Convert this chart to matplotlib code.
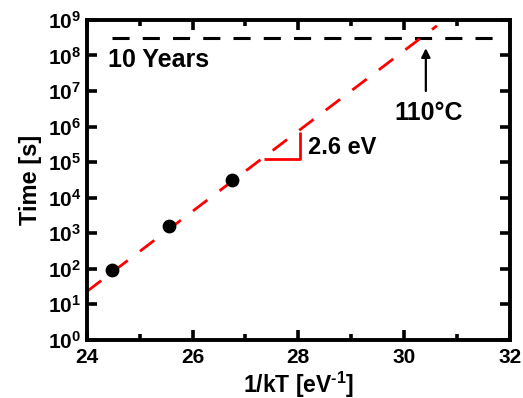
import numpy as np
import matplotlib
matplotlib.use('Agg')
import matplotlib.pyplot as plt
from matplotlib.ticker import FixedLocator, FuncFormatter

plt.rcParams['font.family'] = 'Liberation Sans'
plt.rcParams['font.weight'] = 'bold'
plt.rcParams['mathtext.fontset'] = 'custom'
plt.rcParams['mathtext.rm'] = 'Liberation Sans:bold'
plt.rcParams['mathtext.bf'] = 'Liberation Sans:bold'

# measured points
inv_kT = [24.47, 25.55, 26.74]
times = [95, 1550, 32000]

# Arrhenius fit
ea = 2.6            # eV
fit_x = [24.0, 30.62]
fit_log_t0 = 1.36   # log10 time at 1/kT = 24
ten_years = 3.15e8
t_110c = 30.41

def fit(x):
    return 10 ** (fit_log_t0 + ea / np.log(10) * (np.asarray(x) - 24.0))

fig = plt.figure(figsize=(5.23, 3.98), dpi=100)
ax = fig.add_axes([0.166, 0.146, 0.809, 0.804])

ax.set_yscale('log')
ax.set_xlim(24, 32)
ax.set_ylim(1, 1e9)

# 10 years line
ax.plot([24.47, 31.8], [ten_years, ten_years], color='black', lw=2.2,
        dashes=(5.6, 4.3))

# fit line
fx = np.linspace(fit_x[0], fit_x[1], 50)
ax.plot(fx, fit(fx), color='#ff0000', lw=2.0, dashes=(6.5, 5.5))

# slope triangle
tx0, tx1 = 27.35, 28.03
ty = 1.2e5
ax.plot([tx0, tx1, tx1], [ty, ty, ty * 10 ** (ea / np.log(10) * (tx1 - tx0))],
        color='#ff0000', lw=2.0, solid_capstyle='butt')
ax.text(28.18, 2.5e5, '2.6 eV', fontsize=17, fontweight='bold', va='center')

# data points
ax.scatter(inv_kT, times, s=80, color='black', zorder=5)

ax.text(24.4, 7.4e7, '10 Years', fontsize=18, fontweight='bold', va='center')

ax.annotate('', xy=(t_110c, 1.6e8), xytext=(t_110c, 1.0e7),
            arrowprops=dict(arrowstyle='-|>', color='black', lw=1.6,
                            mutation_scale=13, shrinkA=0, shrinkB=0))
ax.text(t_110c + 0.05, 2.4e6, '110°C', fontsize=18, fontweight='bold', ha='center', va='center')

# ticks
ax.xaxis.set_major_locator(FixedLocator([24, 26, 28, 30, 32]))
ax.xaxis.set_minor_locator(FixedLocator([25, 27, 29, 31]))
ax.yaxis.set_major_locator(FixedLocator([10.0 ** k for k in range(10)]))
ax.yaxis.set_minor_locator(FixedLocator([]))
ax.yaxis.set_major_formatter(FuncFormatter(lambda v, p: r'$\mathbf{10^{%d}}$' % round(np.log10(v))))
ax.tick_params(which='both', direction='in', top=True, right=True, width=2.6)
ax.tick_params(axis='x', which='major', labelsize=15, pad=6)
ax.tick_params(axis='y', which='major', labelsize=15, pad=4)
ax.tick_params(which='major', length=7)
ax.tick_params(which='minor', length=4)
for lab in ax.get_xticklabels():
    lab.set_fontweight('bold')
for s in ax.spines.values():
    s.set_linewidth(2.8)

ax.set_xlabel('1/kT [eV$^{\u2010\\mathbf{1}}$]', fontsize=16.5, fontweight='bold')
ax.xaxis.set_label_coords(0.5, -0.092)
ax.set_ylabel('Time [s]', fontsize=17, fontweight='bold', labelpad=4)

fig.savefig('out.png', dpi=100)
